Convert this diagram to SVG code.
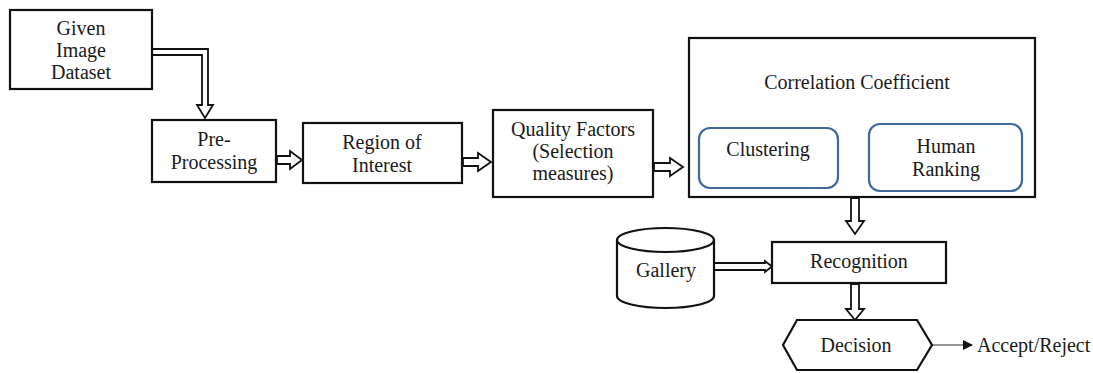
<svg xmlns="http://www.w3.org/2000/svg" width="1093" height="373" viewBox="0 0 1093 373">
<defs>
<style>
text{font-family:"Liberation Serif","Times New Roman",serif;font-size:20px;fill:#1a1a1a;text-anchor:middle}
.box{fill:#fff;stroke:#111;stroke-width:2.2}
.rbox{fill:#fff;stroke:#41689a;stroke-width:2.2}
.fat{fill:#fff;stroke:#111;stroke-width:1.8;stroke-linejoin:miter}
.thin{fill:none;stroke:#666;stroke-width:1}
</style>
<marker id="ah" viewBox="0 0 10 10" refX="9" refY="5" markerWidth="10" markerHeight="10" markerUnits="userSpaceOnUse" orient="auto"><path d="M0,0L10,5L0,10z" fill="#111"/></marker>
<marker id="ahg" viewBox="0 0 10 10" refX="9" refY="5" markerWidth="10" markerHeight="10" markerUnits="userSpaceOnUse" orient="auto"><path d="M0,0L10,5L0,10z" fill="#4a5a70"/></marker>
</defs>
<g id="connectors">
<path class="fat" d="M152,49 L208,49 L208,105 L213,105 L205,118 L197,105 L202,105 L202,55 L152,55 Z"/>
<path class="fat" d="M277,156 L290,156 L290,151 L302,160 L290,169 L290,164 L277,164 Z"/>
<path class="fat" d="M463,158 L478,158 L478,153 L491,162 L478,171 L478,166 L463,166 Z"/>
<path class="fat" d="M654,163 L670,163 L670,158 L683,167 L670,176 L670,171 L654,171 Z"/>
<path class="fat" d="M851,198 L859,198 L859,221 L864,221 L855,234 L846,221 L851,221 Z"/>
<path class="fat" d="M714,263 L765,263 L765,261 L772,266.5 L765,272 L765,270 L714,270 Z"/>
<path class="fat" d="M851,284 L859,284 L859,309 L864,309 L855,320 L846,309 L851,309 Z"/>
<line class="thin" x1="857" y1="102" x2="782" y2="126" marker-end="url(#ahg)"/>
<line class="thin" x1="857" y1="102" x2="941" y2="122" marker-end="url(#ah)"/>
<line x1="932" y1="345" x2="972" y2="345" stroke="#333" stroke-width="1.2" marker-end="url(#ah)"/>
</g>
<g id="given" font-family="Liberation Serif, serif">
<rect class="box" x="10" y="10" width="142" height="79"/>
<text x="81" y="35">Given</text>
<text x="81" y="57">Image</text>
<text x="81" y="79">Dataset</text>
</g>
<g id="preprocessing">
<rect class="box" x="152" y="120" width="124" height="62"/>
<text x="214" y="146">Pre-</text>
<text x="214" y="169">Processing</text>
</g>
<g id="roi">
<rect class="box" x="303" y="123" width="159" height="60"/>
<text x="382" y="149">Region of</text>
<text x="382" y="172">Interest</text>
</g>
<g id="quality">
<rect class="box" x="493" y="110" width="160" height="87"/>
<text x="573" y="136">Quality Factors</text>
<text x="573" y="158">(Selection</text>
<text x="573" y="180">measures)</text>
</g>
<g id="correlation">
<rect class="box" x="689" y="38" width="346" height="159"/>
<text x="857" y="89">Correlation Coefficient</text>
</g>
<g id="clustering">
<rect class="rbox" x="699" y="128" width="139" height="60" rx="11"/>
<text x="768" y="156">Clustering</text>
</g>
<g id="human">
<rect class="rbox" x="869" y="124" width="153" height="67" rx="11"/>
<text x="946" y="153">Human</text>
<text x="946" y="176">Ranking</text>
</g>
<g id="gallery">
<path class="box" d="M617,240 L617,296 A48.5,12 0 0 0 714,296 L714,240"/>
<ellipse class="box" cx="665.5" cy="240" rx="48.5" ry="12"/>
<text x="666" y="277">Gallery</text>
</g>
<g id="recognition">
<rect class="box" x="772" y="242" width="174" height="41"/>
<text x="859" y="268">Recognition</text>
</g>
<g id="decision">
<path class="box" d="M797,320 L917,320 L932,345 L917,370 L797,370 L783,345 Z"/>
<text x="856" y="352">Decision</text>
</g>
<g id="accept">
<text x="977" y="352" style="text-anchor:start">Accept/Reject</text>
</g>
</svg>
